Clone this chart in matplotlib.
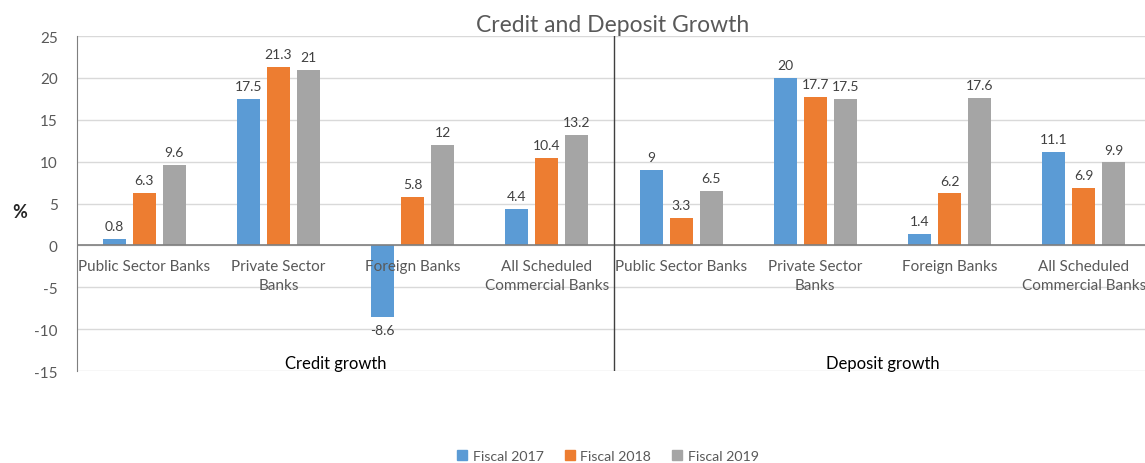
import numpy as np
import matplotlib.pyplot as plt
from matplotlib.patches import Patch

# ---------------------------
# Dados
# ---------------------------
categorias = ["Public Sector Banks", "Private Sector\nBanks", "Foreign Banks",
              "All Scheduled\nCommercial Banks"]
grupos = ["Credit growth", "Deposit growth"]
series = ["Fiscal 2017", "Fiscal 2018", "Fiscal 2019"]

fiscal_2017 = [0.8, 17.5, -8.6, 4.4, 9, 20, 1.4, 11.1]
fiscal_2018 = [6.3, 21.3, 5.8, 10.4, 3.3, 17.7, 6.2, 6.9]
fiscal_2019 = [9.6, 21, 12, 13.2, 6.5, 17.5, 17.6, 9.9]

cores = ["#5B9BD5", "#ED7D31", "#A5A5A5"]
yticks = [25, 20, 15, 10, 5, 0, -5, -10, -15]

plt.rcParams["font.family"] = ["Lato", "DejaVu Sans"]
plt.rcParams["axes.unicode_minus"] = False

fig = plt.figure(figsize=(11.45, 4.64), dpi=100)
ax = fig.add_axes([77/1145, 92/464, 1074/1145, 335/464])

x = np.arange(len(categorias) * len(grupos))
largura = 0.172
passo = 0.224
valores = [fiscal_2017, fiscal_2018, fiscal_2019]

for i, (vals, cor) in enumerate(zip(valores, cores)):
    pos = x + (i - 1) * passo
    ax.bar(pos, vals, largura, color=cor, zorder=3)
    for xp, v in zip(pos, vals):
        ax.annotate(f"{v:g}", (xp, v), xytext=(0, 5 if v >= 0 else -5),
                    textcoords="offset points", ha="center",
                    va="bottom" if v >= 0 else "top",
                    fontsize=10, color="#404040")

ax.set_xlim(-0.5, len(x) - 0.5)
ax.set_ylim(-15, 25)
ax.set_yticks(yticks)
ax.tick_params(axis="y", length=0, pad=14, labelsize=11, labelcolor="#595959")
ax.set_xticks([])
ax.grid(axis="y", color="#D9D9D9", linewidth=1, zorder=0)
for s in ["top", "right", "bottom"]:
    ax.spines[s].set_visible(False)
ax.spines["left"].set_color("#7F7F7F")
ax.axhline(0, color="#7F7F7F", linewidth=1.2, zorder=4)
ax.axvline(3.5, color="#404040", linewidth=1, zorder=4)

# rótulos das categorias e grupos
for k, xp in enumerate(x):
    ax.text(xp, -1.6, categorias[k % len(categorias)], ha="center", va="top",
            fontsize=11, color="#595959", linespacing=1.45, zorder=5)
for g, nome in enumerate(grupos):
    ax.text(g * len(categorias) + 1.5 - (0.07 if g == 0 else 0), -14.0, nome,
            ha="center", va="center", fontsize=12, color="black")

ax.text(-0.93, 4, "%", transform=ax.transData, ha="center", va="center",
        fontsize=13, fontweight="bold", color="#262626")

fig.text(613/1145, 1 - 25/464, "Credit and Deposit Growth", ha="center",
         va="center", fontsize=16.5, color="#595959")

handles = [Patch(color=c, label=l) for c, l in zip(cores, series)]
fig.legend(handles=handles, loc="center", bbox_to_anchor=(608/1145, 1 - 457/464),
           ncol=3, frameon=False, fontsize=10.2, handlelength=0.7,
           handleheight=0.7, handletextpad=0.4, columnspacing=1.5,
           labelcolor="#595959")

plt.savefig("out.png", dpi=100)
plt.close()
